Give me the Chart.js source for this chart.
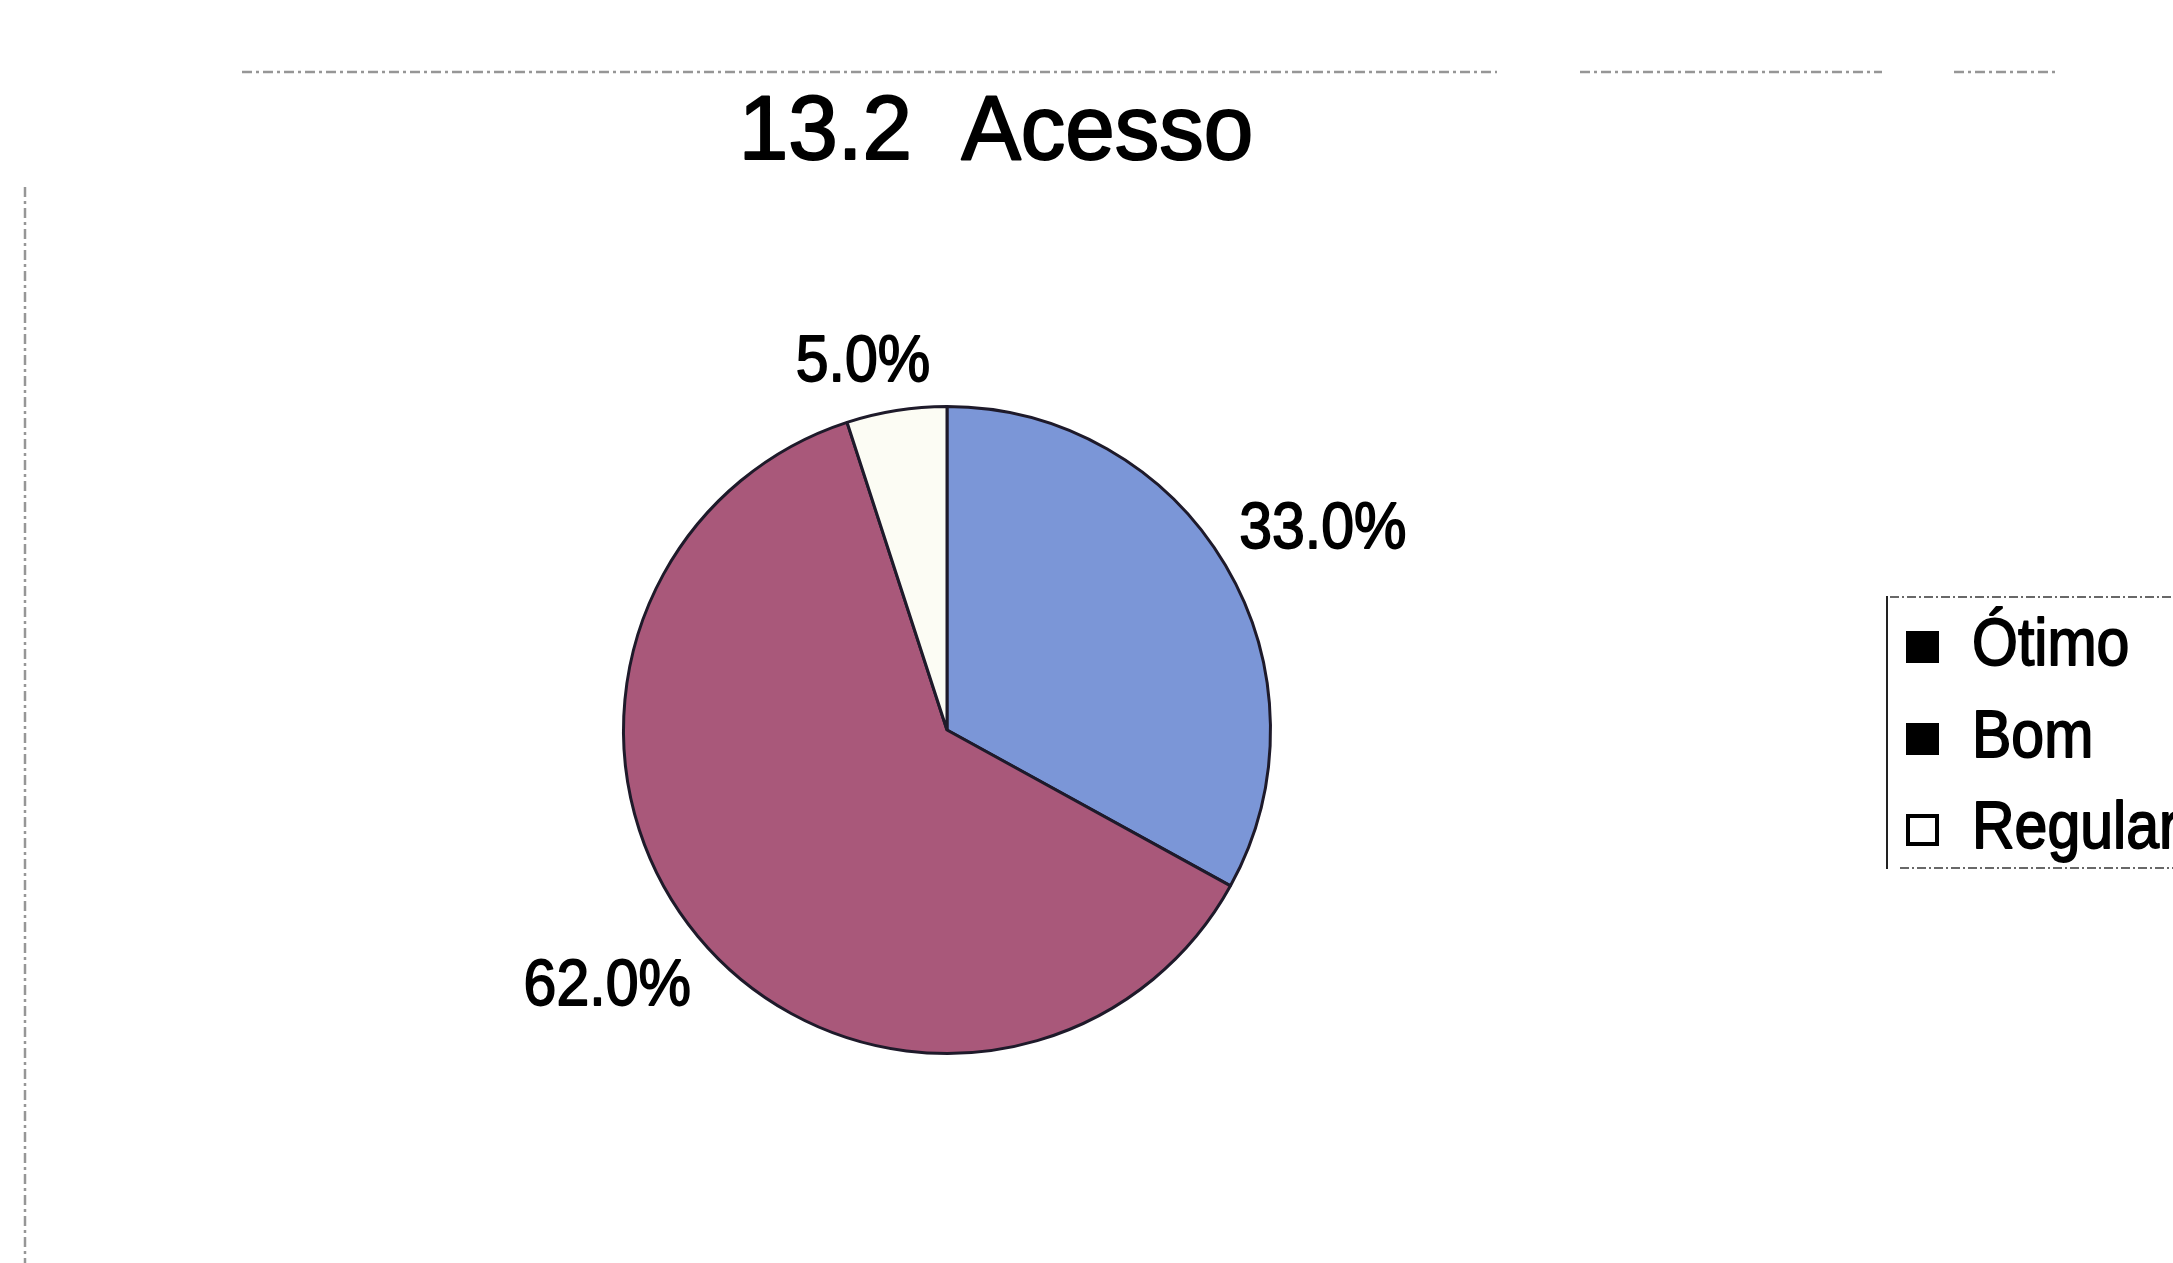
<!DOCTYPE html>
<html>
<head>
<meta charset="utf-8">
<script src="https://cdn.jsdelivr.net/npm/chart.js@4.4.1/dist/chart.umd.min.js"></script>
<style>
  html, body { margin: 0; padding: 0; background: #ffffff; }
  #wrap { position: relative; width: 2173px; height: 1263px; }
</style>
</head>
<body>
<div id="wrap"><canvas id="c" width="2173" height="1263"></canvas></div>
<script>
// Access rating survey (13.2 Acesso)
const categories = ['Ótimo', 'Bom', 'Regular'];
const shares = [33.0, 62.0, 5.0];
const sliceColors = ['#7b96d7', '#a9587a', '#fcfcf4'];
const legendSwatches = ['#000000', '#000000', '#ffffff'];
const chartTitle = '13.2  Acesso';

const FONT = '"Liberation Sans", Arial, Helvetica, sans-serif';

// fine adjustment of each percentage label around its slice
const labelNudge = [[8, 12], [-14, -18], [-25, 0]];

// filled text with a thin outline so glyphs read a little heavier
function heavyText(ctx, txt, x, y, weight) {
  ctx.lineWidth = weight;
  ctx.strokeStyle = ctx.fillStyle;
  ctx.lineJoin = 'round';
  ctx.strokeText(txt, x, y);
  ctx.fillText(txt, x, y);
}

// Draws the frame, title, slice percentage labels and the legend
const decorations = {
  id: 'decorations',
  afterDraw(chart) {
    const ctx = chart.ctx;
    ctx.save();

    // faint dashed frame lines
    ctx.strokeStyle = 'rgba(80,80,80,0.6)';
    ctx.lineWidth = 2.5;
    ctx.setLineDash([10, 4, 3, 4]);
    ctx.beginPath();
    ctx.moveTo(242, 72); ctx.lineTo(1497, 72);
    ctx.moveTo(1580, 72); ctx.lineTo(1882, 72);
    ctx.moveTo(1954, 72); ctx.lineTo(2055, 72);
    ctx.stroke();
    ctx.beginPath();
    ctx.moveTo(25, 187); ctx.lineTo(25, 1263);
    ctx.stroke();

    // title
    ctx.setLineDash([]);
    ctx.fillStyle = '#000';
    ctx.textAlign = 'center';
    ctx.textBaseline = 'alphabetic';
    ctx.save();
    ctx.translate(996, 159);
    ctx.scale(1, 1.02);
    ctx.font = '89px ' + FONT;
    heavyText(ctx, chartTitle, 0, 0, 2);
    ctx.restore();

    // percentage labels outside each slice
    const meta = chart.getDatasetMeta(0);
    const fs = 59;
    ctx.font = fs + 'px ' + FONT;
    const capH = fs * 0.716 * 1.1;
    meta.data.forEach((arc, i) => {
      const p = arc.getProps(['x', 'y', 'startAngle', 'endAngle', 'outerRadius'], true);
      const mid = (p.startAngle + p.endAngle) / 2;
      const txt = shares[i].toFixed(1) + '%';
      const w = ctx.measureText(txt).width;
      const c = Math.cos(mid), s = Math.sin(mid);
      const d = p.outerRadius + 20 + Math.abs(c) * w / 2 + Math.abs(s) * capH / 2;
      const cx = p.x + c * d + labelNudge[i][0];
      const cy = p.y + s * d + labelNudge[i][1];
      ctx.save();
      ctx.translate(cx, cy + capH / 2);
      ctx.scale(1, 1.1);
      ctx.textAlign = 'center';
      ctx.fillStyle = '#000';
      heavyText(ctx, txt, 0, 0, 1.6);
      ctx.restore();
    });

    // legend box
    ctx.strokeStyle = '#222';
    ctx.lineWidth = 2;
    ctx.beginPath();
    ctx.moveTo(1887, 596); ctx.lineTo(1887, 869);
    ctx.stroke();
    ctx.strokeStyle = 'rgba(40,40,40,0.7)';
    ctx.setLineDash([9, 3, 2, 3]);
    ctx.beginPath();
    ctx.moveTo(1890, 597); ctx.lineTo(2173, 597);
    ctx.moveTo(1900, 868); ctx.lineTo(2173, 868);
    ctx.stroke();
    ctx.setLineDash([]);

    // legend entries
    const rowBase = [665, 757, 848];
    ctx.textAlign = 'left';
    categories.forEach((name, i) => {
      const yb = rowBase[i];
      ctx.fillStyle = legendSwatches[i];
      ctx.fillRect(1906, yb - 34, 33, 32);
      if (i === 2) {
        ctx.strokeStyle = '#000';
        ctx.lineWidth = 4;
        ctx.strokeRect(1908, yb - 32, 29, 28);
      }
      ctx.fillStyle = '#000';
      ctx.save();
      ctx.translate(1972, yb);
      ctx.scale(1, 1.12);
      ctx.font = '59px ' + FONT;
      heavyText(ctx, name, 0, 0, 1.6);
      ctx.restore();
    });

    ctx.restore();
  }
};

new Chart(document.getElementById('c'), {
  type: 'pie',
  data: {
    labels: categories,
    datasets: [{
      data: shares,
      backgroundColor: sliceColors,
      borderColor: '#1e1a2a',
      borderWidth: 3,
      hoverOffset: 0
    }]
  },
  options: {
    responsive: false,
    animation: false,
    events: [],
    layout: { padding: { left: 622, right: 901, top: 405, bottom: 208 } },
    plugins: {
      legend: { display: false },
      title: { display: false },
      tooltip: { enabled: false }
    }
  },
  plugins: [decorations]
});
</script>
</body>
</html>
